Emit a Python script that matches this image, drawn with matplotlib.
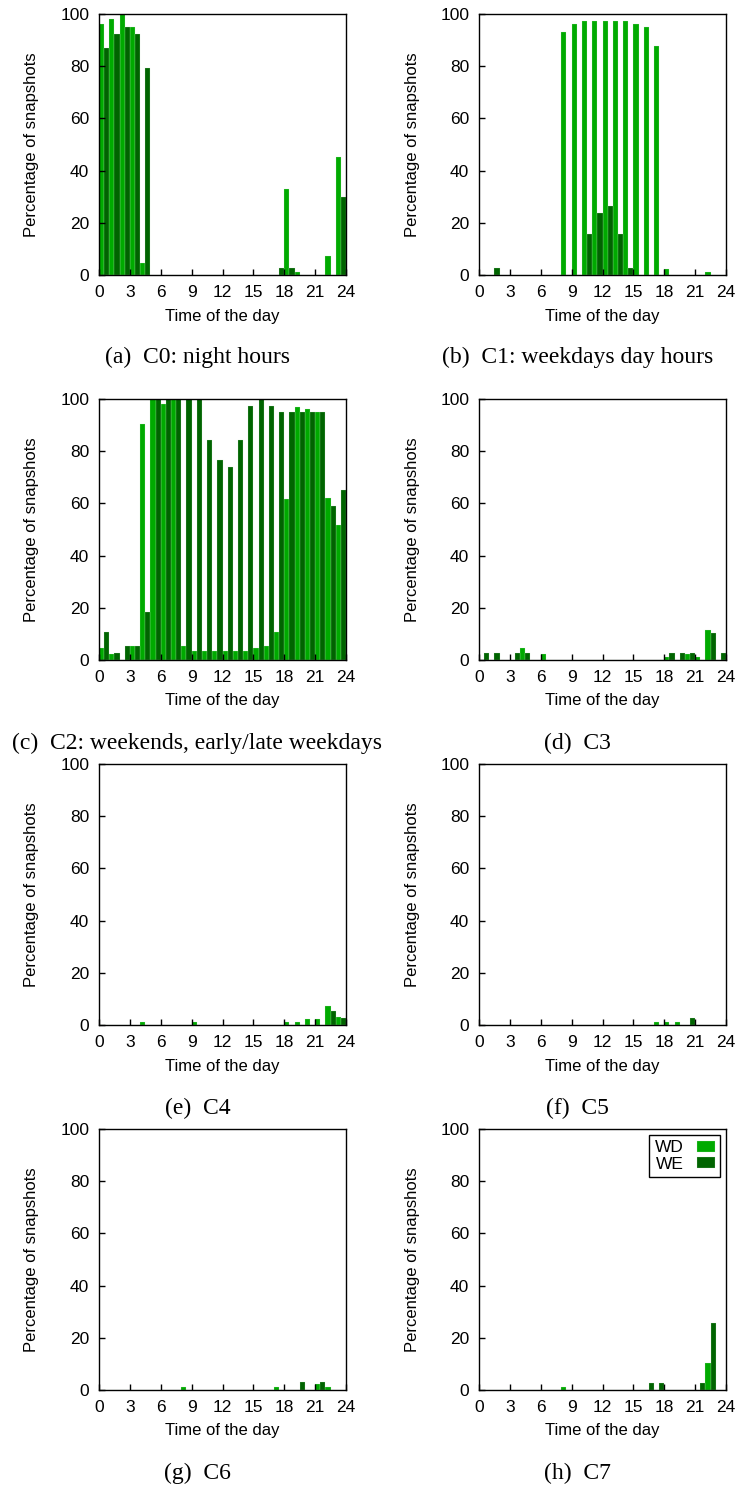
import matplotlib
matplotlib.use("Agg")
import matplotlib.pyplot as plt
import numpy as np

hours = list(range(24))
xticks = [0, 3, 6, 9, 12, 15, 18, 21, 24]
yticks = [0, 20, 40, 60, 80, 100]

c0_wd = [96, 98, 100, 95, 4.5, 0, 0, 0, 0, 0, 0, 0, 0, 0, 0, 0, 0, 0, 33, 1.3, 0, 0, 7.3, 45.4]
c0_we = [87, 92.4, 95, 92.4, 79.2, 0, 0, 0, 0, 0, 0, 0, 0, 0, 0, 0, 0, 2.7, 2.7, 0, 0, 0, 0, 30]

c1_wd = [0, 0, 0, 0, 0, 0, 0, 0, 93, 96, 97.3, 97.3, 97.3, 97.4, 97.3, 96, 95, 87.8, 2.2, 0, 0, 0, 1.2, 0]
c1_we = [0, 2.7, 0, 0, 0, 0, 0, 0, 0, 0, 15.9, 23.8, 26.5, 15.9, 2.7, 0, 0, 0, 0, 0, 0, 0, 0, 0]

c2_wd = [4.5, 2.2, 0, 5.5, 90.5, 100, 98, 100, 5.5, 3.5, 3.5, 3.5, 3.5, 3.5, 3.5, 4.5, 5.5, 10.8, 61.8, 97, 96, 95, 62, 51.8]
c2_we = [10.8, 2.7, 5.5, 5.5, 18.5, 100, 100, 100, 100, 100, 84.3, 76.5, 74, 84.3, 97.5, 100, 97.5, 95, 95, 95, 95, 95.2, 59, 65]

c3_wd = [0, 0, 0, 0, 4.5, 0, 2.2, 0, 0, 0, 0, 0, 0, 0, 0, 0, 0, 0, 1.2, 0, 2.2, 1.2, 11.5, 0]
c3_we = [2.7, 2.7, 0, 2.7, 2.7, 0, 0, 0, 0, 0, 0, 0, 0, 0, 0, 0, 0, 0, 2.7, 2.7, 2.7, 0, 10.4, 2.7]

c4_wd = [0, 0, 0, 0, 1.2, 0, 0, 0, 0, 1.2, 0, 0, 0, 0, 0, 0, 0, 0, 1.2, 1.2, 2.2, 2.2, 7.4, 3.2]
c4_we = [0, 0, 0, 0, 0, 0, 0, 0, 0, 0, 0, 0, 0, 0, 0, 0, 0, 0, 0, 0, 0, 0, 5.2, 2.7]

c5_wd = [0, 0, 0, 0, 0, 0, 0, 0, 0, 0, 0, 0, 0, 0, 0, 0, 0, 1.2, 1.2, 1.2, 0, 0, 0, 0]
c5_we = [0, 0, 0, 0, 0, 0, 0, 0, 0, 0, 0, 0, 0, 0, 0, 0, 0, 0, 0, 0, 2.7, 0, 0, 0]

c6_wd = [0, 0, 0, 0, 0, 0, 0, 0, 1.3, 0, 0, 0, 0, 0, 0, 0, 0, 1.3, 0, 0, 0, 2.4, 1.3, 0]
c6_we = [0, 0, 0, 0, 0, 0, 0, 0, 0, 0, 0, 0, 0, 0, 0, 0, 0, 0, 0, 2.9, 0, 2.9, 0, 0]

c7_wd = [0, 0, 0, 0, 0, 0, 0, 0, 1.2, 0, 0, 0, 0, 0, 0, 0, 0, 0, 0, 0, 0, 0, 10.2, 0]
c7_we = [0, 0, 0, 0, 0, 0, 0, 0, 0, 0, 0, 0, 0, 0, 0, 0, 2.6, 2.6, 0, 0, 0, 2.6, 25.6, 0]

captions = ["(a)  C0: night hours", "(b)  C1: weekdays day hours",
            "(c)  C2: weekends, early/late weekdays", "(d)  C3",
            "(e)  C4", "(f)  C5", "(g)  C6", "(h)  C7"]
series = [(c0_wd, c0_we), (c1_wd, c1_we), (c2_wd, c2_we), (c3_wd, c3_we),
          (c4_wd, c4_we), (c5_wd, c5_we), (c6_wd, c6_we), (c7_wd, c7_we)]

WD_COLOR = "#00aa00"
WE_COLOR = "#006400"
EDGE = (0.8, 0.92, 0.8, 0.45)

W, H = 738, 1487
fig = plt.figure(figsize=(W / 100, H / 100), dpi=100)

sans = ["Liberation Sans", "DejaVu Sans"]
serif = ["Liberation Serif", "DejaVu Serif"]

lefts = [99, 479]
tops = [14, 399, 764, 1129]
ax_w, ax_h = 247, 261
caption_y = [357, 743, 1108, 1473]

for i, (wd, we) in enumerate(series):
    r, c = divmod(i, 2)
    L = lefts[c]
    T = tops[r]
    ax = fig.add_axes([L / W, 1 - (T + ax_h) / H, ax_w / W, ax_h / H])
    x = np.array(hours, dtype=float)
    ax.bar(x, wd, width=0.5, align="edge", color=WD_COLOR,
           edgecolor=EDGE, linewidth=0.35, label="WD")
    ax.bar(x + 0.5, we, width=0.5, align="edge", color=WE_COLOR,
           edgecolor=EDGE, linewidth=0.35, label="WE")
    ax.set_xlim(0, 24)
    ax.set_ylim(0, 100)
    ax.set_xticks(xticks)
    ax.set_yticks(yticks)
    ax.tick_params(direction="in", length=4, width=1, top=False, right=False,
                   labelsize=12.5, pad=7)
    for lab in ax.get_xticklabels() + ax.get_yticklabels():
        lab.set_family(sans)
    for s in ax.spines.values():
        s.set_linewidth(1.0)
        s.set_color("black")
        s.set_zorder(5)
    fig.text((L + ax_w / 2) / W, 1 - (T + ax_h + 41) / H, "Time of the day",
             ha="center", va="center", fontsize=12, family=sans)
    fig.text((L - 67) / W, 1 - (T + ax_h / 2) / H, "Percentage of snapshots",
             ha="center", va="center", rotation=90, fontsize=12, family=sans)
    fig.text((L + ax_w / 2 - 25) / W, 1 - caption_y[r] / H, captions[i],
             ha="center", va="center", fontsize=17, family=serif)
    if i == 7:
        leg = ax.legend(loc="upper right", markerfirst=False, fancybox=False,
                        edgecolor="black", framealpha=1, prop={"family": sans, "size": 12.5},
                        handlelength=1.0, handleheight=0.6, handletextpad=0.8,
                        labelspacing=0.1, borderpad=0.3, borderaxespad=0.35)
        leg.get_frame().set_linewidth(1.0)

fig.savefig("out.png", dpi=100)
